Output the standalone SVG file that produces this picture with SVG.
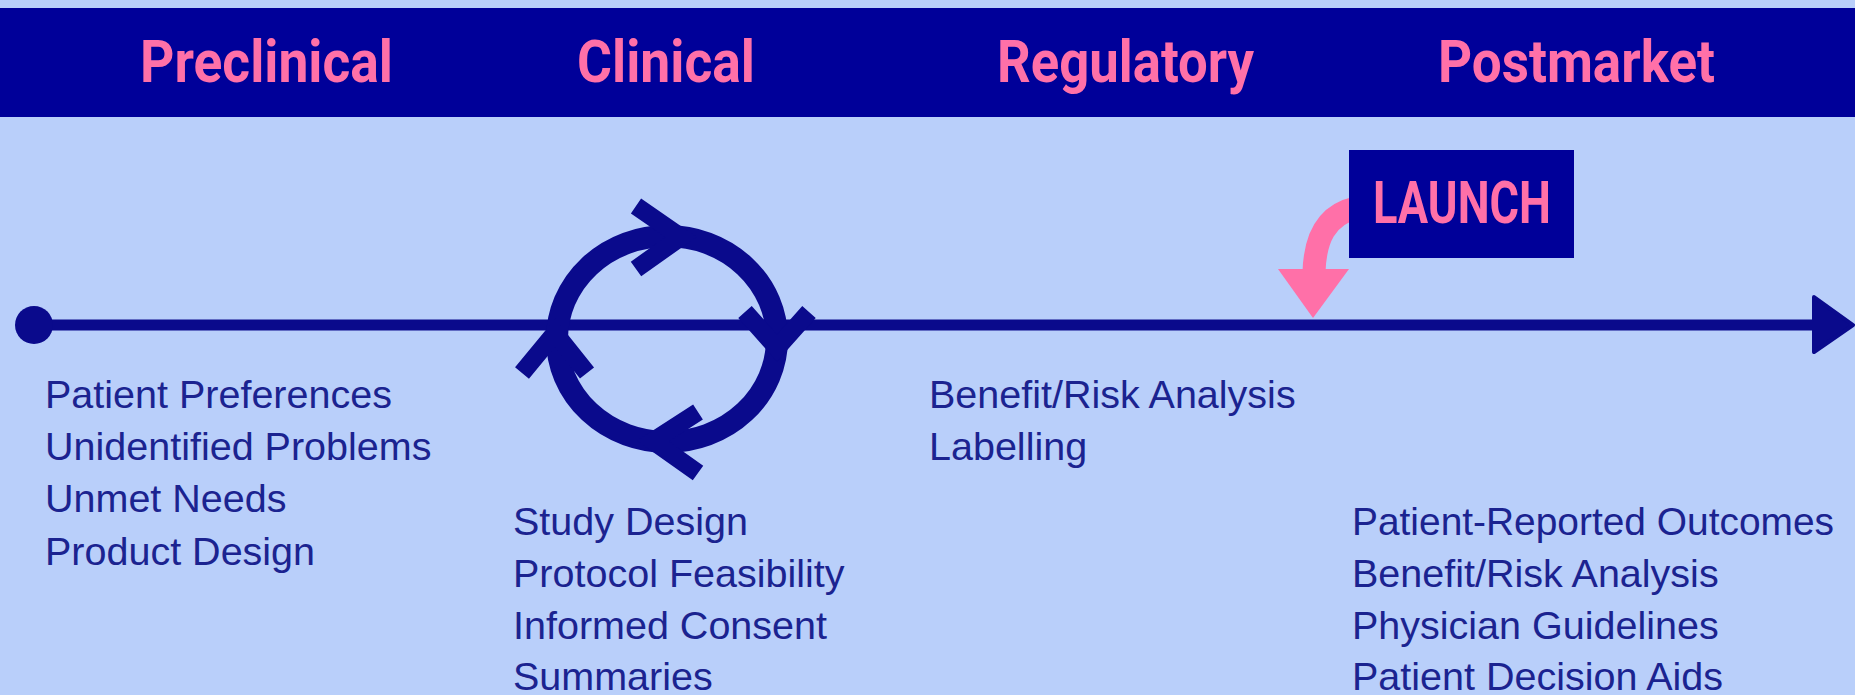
<svg xmlns="http://www.w3.org/2000/svg" width="1855" height="695" viewBox="0 0 1855 695">
<style>
.hdr{font-family:Roboto,"Liberation Sans",sans-serif;font-weight:bold;font-size:59px;fill:#ff70a8}
.item{font-family:"Liberation Sans",Arial,sans-serif;font-size:39.5px;fill:#1b2390}
.navy{fill:none;stroke:#0a0a8c}
.chev{fill:none;stroke:#0a0a8c;stroke-width:18;stroke-linejoin:miter;stroke-miterlimit:10}
</style>
<rect x="0" y="0" width="1855" height="695" fill="#b9cffa"/>
<g id="header">
<rect x="0" y="8" width="1855" height="109" fill="#000099"/>
<text class="hdr" x="140" y="82" textLength="253" lengthAdjust="spacingAndGlyphs">Preclinical</text>
<text class="hdr" x="577" y="82" textLength="178" lengthAdjust="spacingAndGlyphs">Clinical</text>
<text class="hdr" x="997" y="82" textLength="257" lengthAdjust="spacingAndGlyphs">Regulatory</text>
<text class="hdr" x="1438" y="82" textLength="277" lengthAdjust="spacingAndGlyphs">Postmarket</text>
</g>
<g id="connectors">
<line class="navy" x1="34" y1="325" x2="1818" y2="325" stroke-width="11"/>
<polygon points="1814,297 1853,325 1814,352" fill="#0a0a8c" stroke="#0a0a8c" stroke-width="4" stroke-linejoin="round"/>
<path d="M1356,208 C1325,215 1315,240 1314,272" fill="none" stroke="#ff70a8" stroke-width="23"/>
<polygon points="1278,269 1349,269 1313,318" fill="#ff70a8"/>
</g>
<g id="start">
<circle cx="34" cy="325" r="19" fill="#0a0a8c"/>
</g>
<g id="cycle">
<ellipse cx="667" cy="339" rx="110" ry="103" class="navy" stroke-width="22"/>
<path class="chev" d="M636,206 L681,237 L636,269"/>
<path class="chev" d="M745,312 L777,348 L809,312"/>
<path class="chev" d="M698,412 L653,441 L698,473"/>
<path class="chev" d="M522,373 L555,333 L587,373"/>
</g>
<g id="launch">
<rect x="1349" y="150" width="225" height="108" fill="#000099"/>
<text class="hdr" x="1373" y="223" font-size="50" textLength="178" lengthAdjust="spacingAndGlyphs">LAUNCH</text>
</g>
<g id="preclinical-items">
<text class="item" x="45" y="408">Patient Preferences</text>
<text class="item" x="45" y="460">Unidentified Problems</text>
<text class="item" x="45" y="512">Unmet Needs</text>
<text class="item" x="45" y="565">Product Design</text>
</g>
<g id="clinical-items">
<text class="item" x="513" y="535">Study Design</text>
<text class="item" x="513" y="587">Protocol Feasibility</text>
<text class="item" x="513" y="639">Informed Consent</text>
<text class="item" x="513" y="690">Summaries</text>
</g>
<g id="regulatory-items">
<text class="item" x="929" y="408">Benefit/Risk Analysis</text>
<text class="item" x="929" y="460">Labelling</text>
</g>
<g id="postmarket-items">
<text class="item" x="1352" y="535" textLength="482" lengthAdjust="spacingAndGlyphs">Patient-Reported Outcomes</text>
<text class="item" x="1352" y="587">Benefit/Risk Analysis</text>
<text class="item" x="1352" y="639">Physician Guidelines</text>
<text class="item" x="1352" y="690">Patient Decision Aids</text>
</g>
</svg>
